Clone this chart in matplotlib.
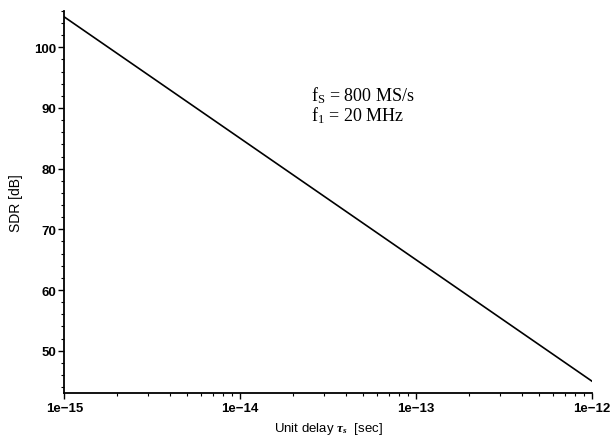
import numpy as np
import matplotlib.pyplot as plt
from matplotlib.ticker import MultipleLocator, LogLocator, NullFormatter

# Data: SDR vs unit delay (line at decade points)
unit_delay = [1e-15, 1e-14, 1e-13, 1e-12]
sdr_db = [105.0, 85.0, 65.0, 45.0]
x_ticks = [1e-15, 1e-14, 1e-13, 1e-12]
x_ticklabels = ['1e\u221215', '1e\u221214', '1e\u221213', '1e\u221212']
y_ticks = [50, 60, 70, 80, 90, 100]

plt.rcParams['font.family'] = ['Liberation Sans', 'DejaVu Sans']
plt.rcParams['mathtext.fontset'] = 'custom'
plt.rcParams['mathtext.it'] = 'Liberation Serif:italic:bold'
plt.rcParams['mathtext.rm'] = 'Liberation Serif'

fig = plt.figure(figsize=(6.12, 4.39), dpi=100)
ax = fig.add_axes([0.105, 0.102, 0.862, 0.871])

ax.plot(unit_delay, sdr_db, color='black', linewidth=1.2)

ax.set_xscale('log')
ax.set_xlim(1e-15, 1e-12)
ax.set_ylim(43.0, 106.0)

ax.set_xticks(x_ticks)
ax.set_xticklabels(x_ticklabels)
ax.xaxis.set_minor_locator(LogLocator(base=10, subs=np.arange(2, 10)))
ax.xaxis.set_minor_formatter(NullFormatter())
ax.set_yticks(y_ticks)
ax.yaxis.set_minor_locator(MultipleLocator(2))

for s in ['top', 'right']:
    ax.spines[s].set_visible(False)
for s in ['left', 'bottom']:
    ax.spines[s].set_linewidth(1.3)

ax.tick_params(which='major', direction='out', length=4, width=1.0,
               labelsize=9.5, pad=2)
ax.tick_params(which='minor', direction='out', length=2.5, width=0.8)
for lbl in ax.get_xticklabels() + ax.get_yticklabels():
    lbl.set_fontweight('bold')

ax.set_xlabel(r'Unit delay $\tau_s$  [sec]', fontsize=9.5, labelpad=5)
ax.set_ylabel('SDR [dB]', fontsize=10, labelpad=8)

ax.text(0.467, 0.78, r'$\mathrm{f_S}$ = 800 MS/s', transform=ax.transAxes,
        fontsize=13, family='Liberation Serif', va='center')
ax.text(0.467, 0.728, r'$\mathrm{f_1}$ = 20 MHz', transform=ax.transAxes,
        fontsize=13, family='Liberation Serif', va='center')

plt.savefig('out.png', dpi=100)
